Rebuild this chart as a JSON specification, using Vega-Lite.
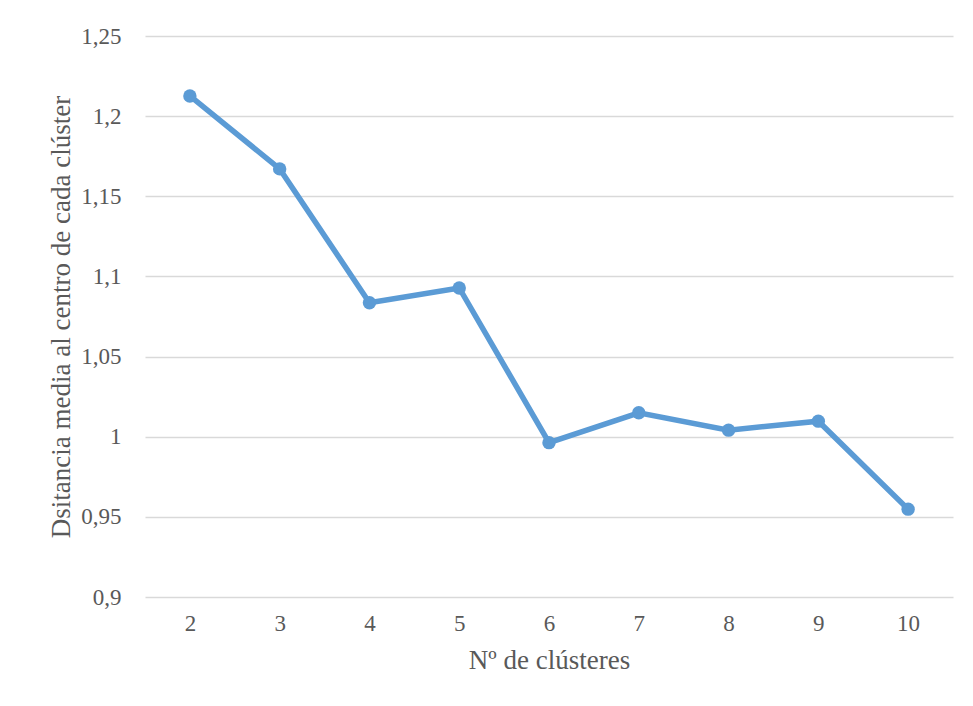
{
  "$schema": "https://vega.github.io/schema/vega-lite/v6.json",
  "autosize": {"type": "none"},
  "padding": {"left": 145, "top": 36, "right": 20, "bottom": 109},
  "width": 808,
  "height": 561,
  "background": "white",
  "data": {
    "values": [
      {"clusters": 2, "distancia": 1.2126},
      {"clusters": 3, "distancia": 1.1671},
      {"clusters": 4, "distancia": 1.0836},
      {"clusters": 5, "distancia": 1.0928},
      {"clusters": 6, "distancia": 0.9963},
      {"clusters": 7, "distancia": 1.0149},
      {"clusters": 8, "distancia": 1.0041},
      {"clusters": 9, "distancia": 1.0097},
      {"clusters": 10, "distancia": 0.9548}
    ]
  },
  "mark": {
    "type": "line",
    "color": "#5B9BD5",
    "strokeWidth": 5.5,
    "point": {"filled": true, "size": 180, "color": "#5B9BD5", "opacity": 1}
  },
  "encoding": {
    "x": {
      "field": "clusters",
      "type": "ordinal",
      "sort": null,
      "scale": {"type": "point", "padding": 0.5},
      "axis": {
        "title": "Nº de clústeres",
        "labelAngle": 0,
        "labelPadding": 15,
        "titlePadding": 12,
        "domain": false,
        "ticks": false,
        "grid": false
      }
    },
    "y": {
      "field": "distancia",
      "type": "quantitative",
      "scale": {"domain": [0.9, 1.25], "nice": false, "zero": false},
      "axis": {
        "title": "Dsitancia media al centro de cada clúster",
        "values": [0.9, 0.95, 1, 1.05, 1.1, 1.15, 1.2, 1.25],
        "labelExpr": "replace(format(datum.value, '.2~f'), '.', ',')",
        "labelPadding": 24,
        "titlePadding": 5,
        "domain": false,
        "ticks": false,
        "grid": true,
        "gridColor": "#d9d9d9",
        "gridWidth": 1.5
      }
    }
  },
  "config": {
    "view": {"stroke": null},
    "axis": {
      "labelFont": "Liberation Serif",
      "titleFont": "Liberation Serif",
      "labelFontSize": 23,
      "titleFontSize": 27,
      "labelColor": "#595959",
      "titleColor": "#595959",
      "titleFontWeight": "normal"
    }
  }
}
